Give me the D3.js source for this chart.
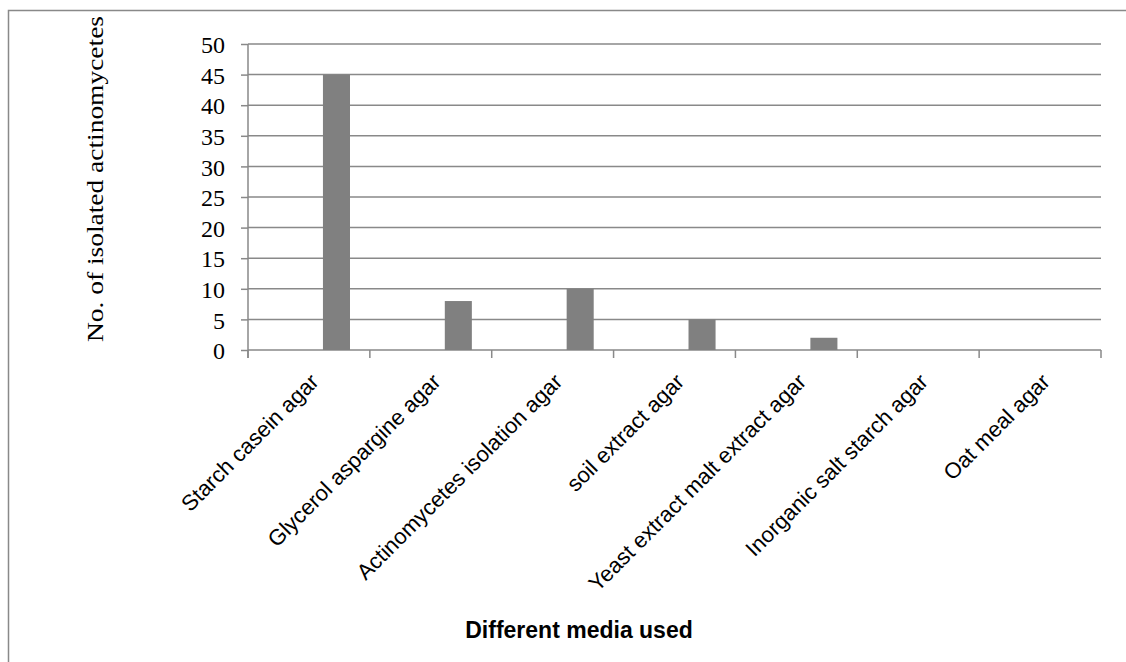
<!DOCTYPE html>
<html>
<head>
<meta charset="utf-8">
<script src="https://cdn.jsdelivr.net/npm/d3@7"></script>
<style>
  body { margin: 0; background: #fff; }
  svg { display: block; }
</style>
</head>
<body>
<script>
// Number of isolated actinomycetes per medium

const media = ["Starch casein agar", "Glycerol aspargine agar", "Actinomycetes isolation agar",
               "soil extract agar", "Yeast extract malt extract agar",
               "Inorganic salt starch agar", "Oat meal agar"];
const counts = [45, 8, 10, 5, 2, 0, 0];
const yTicks = [0, 5, 10, 15, 20, 25, 30, 35, 40, 45, 50];

const width = 1126, height = 662;
const margin = {top: 44, right: 25, bottom: 312, left: 248};
const innerWidth = width - margin.left - margin.right;
const innerHeight = height - margin.top - margin.bottom;

const gridColor = "#898989";

const svg = d3.select("body").append("svg")
    .attr("width", width)
    .attr("height", height);

// outer frame (runs off the right and bottom edges)
svg.append("rect")
    .attr("x", 8.5).attr("y", 10.5)
    .attr("width", 1140).attr("height", 700)
    .attr("fill", "none")
    .attr("stroke", gridColor)
    .attr("stroke-width", 1.5);

const g = svg.append("g")
    .attr("transform", "translate(" + margin.left + "," + margin.top + ")");

const x = d3.scaleBand()
    .domain(media)
    .range([0, innerWidth])
    .padding(0);

const y = d3.scaleLinear()
    .domain([0, 50])
    .range([innerHeight, 0]);

// gridlines
g.selectAll(".grid")
    .data(yTicks)
    .join("line")
    .attr("class", "grid")
    .attr("x1", 0)
    .attr("x2", innerWidth)
    .attr("y1", d => y(d))
    .attr("y2", d => y(d))
    .attr("stroke", gridColor)
    .attr("stroke-width", 1.5);

// y axis
const yAxis = g.append("g")
    .call(d3.axisLeft(y).tickValues(yTicks).tickSize(7).tickPadding(16));
yAxis.select(".domain").remove();
yAxis.selectAll(".tick line")
    .attr("stroke", gridColor)
    .attr("stroke-width", 1.5);
yAxis.selectAll(".tick text")
    .attr("dy", "0.36em")
    .style("font-family", "'Liberation Serif', 'Times New Roman', serif")
    .style("font-size", "24px")
    .attr("fill", "#000");

// y axis line
g.append("line")
    .attr("x1", 0).attr("x2", 0)
    .attr("y1", 0).attr("y2", innerHeight + 8)
    .attr("stroke", gridColor)
    .attr("stroke-width", 1.5);

// category ticks sit on the band edges
const tickPos = media.map(d => x(d)).concat([innerWidth]);
g.selectAll(".xtick")
    .data(tickPos)
    .join("line")
    .attr("class", "xtick")
    .attr("x1", d => d).attr("x2", d => d)
    .attr("y1", innerHeight).attr("y2", innerHeight + 8)
    .attr("stroke", gridColor)
    .attr("stroke-width", 1.5);

// bars (offset inside each band like the original)
g.selectAll(".bar")
    .data(counts)
    .join("rect")
    .attr("class", "bar")
    .attr("fill", "#808080")
    .attr("x", (d, i) => x(media[i]) + x.bandwidth() * 0.615)
    .attr("width", x.bandwidth() * 0.222)
    .attr("y", d => y(d))
    .attr("height", d => innerHeight - y(d));

// rotated category labels
g.selectAll(".xlabel")
    .data(media)
    .join("text")
    .attr("class", "xlabel")
    .attr("transform", d => "translate(" + (x(d) + x.bandwidth() / 2) + "," + (innerHeight + 22) + ")rotate(-45)")
    .attr("dy", "0.71em")
    .attr("text-anchor", "end")
    .style("font-family", "'Liberation Sans', Arial, sans-serif")
    .style("font-size", "22px")
    .attr("fill", "#000")
    .text(d => d);

// axis titles
svg.append("text")
    .attr("x", 579)
    .attr("y", 638)
    .attr("text-anchor", "middle")
    .style("font-family", "'Liberation Sans', Arial, sans-serif")
    .style("font-size", "23px")
    .style("font-weight", "bold")
    .text("Different media used");

svg.append("text")
    .attr("transform", "translate(103,179)rotate(-90)")
    .attr("text-anchor", "middle")
    .style("font-family", "'Liberation Serif', 'Times New Roman', serif")
    .style("font-size", "23px")
    .attr("textLength", 326)
    .attr("lengthAdjust", "spacingAndGlyphs")
    .text("No. of isolated actinomycetes");
</script>
</body>
</html>
